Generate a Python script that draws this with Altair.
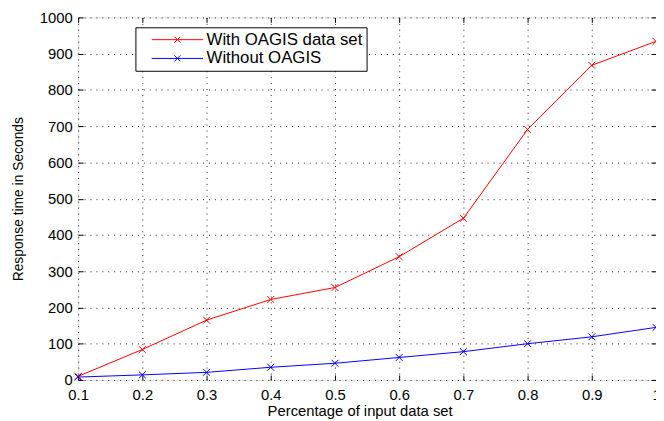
import altair as alt
import pandas as pd

x_vals = [0.1, 0.2, 0.3, 0.4, 0.5, 0.6, 0.7, 0.8, 0.9, 1.0]
with_oagis = [10, 84, 165, 222, 255, 340, 446, 691, 868, 934]
without_oagis = [8, 14, 21, 35, 46, 62, 78, 100, 119, 145]
series_names = ["With OAGIS data set", "Without OAGIS"]
series_colors = ["#ff0000", "#0000ff"]
x_ticks = [0.1, 0.2, 0.3, 0.4, 0.5, 0.6, 0.7, 0.8, 0.9, 1.0]
y_ticks = [0, 100, 200, 300, 400, 500, 600, 700, 800, 900, 1000]

rows = []
for xv, a, b in zip(x_vals, with_oagis, without_oagis):
    rows.append({"x": xv, "y": a, "series": series_names[0]})
    rows.append({"x": xv, "y": b, "series": series_names[1]})
df = pd.DataFrame(rows)

W, H = 585, 367
FONT = "Liberation Sans"

xscale = alt.Scale(domain=[0.1, 1.0], nice=False, zero=False)
yscale = alt.Scale(domain=[0, 1000], nice=False)

X_MARK = "M-1,-1L1,1M-1,1L1,-1"
# legend symbol: size 100 -> r = 5; line spans 52 px, small x marker in the middle
LEG_SYMBOL = "M-5.2,0H5.2M-0.6,-0.6L0.6,0.6M-0.6,0.6L0.6,-0.6"

main = alt.Chart(df).mark_line(
    strokeWidth=1,
    point=alt.OverlayMarkDef(shape=X_MARK, filled=False, size=49, strokeWidth=1),
).encode(
    x=alt.X("x:Q", scale=xscale,
            axis=alt.Axis(orient="bottom", values=x_ticks, format=".1~f",
                          title="Percentage of input data set",
                          grid=True, gridDash=[1, 5], gridColor="#222",
                          ticks=False, tickSize=0, domain=False,
                          labelFont=FONT, labelFontSize=15, labelColor="black",
                          labelPadding=8, labelFlush=False,
                          titleFont=FONT, titleFontSize=15, titleFontWeight="normal",
                          titleColor="black", titlePadding=1, titleX=285)),
    y=alt.Y("y:Q", scale=yscale,
            axis=alt.Axis(orient="left", values=y_ticks, format="d",
                          title="Response time in Seconds",
                          grid=True, gridDash=[1, 5], gridColor="#222",
                          ticks=False, tickSize=0, domain=False,
                          labelFont=FONT, labelFontSize=15, labelColor="black",
                          labelPadding=6, labelFlush=False,
                          titleFont=FONT, titleFontSize=14, titleFontWeight="normal",
                          titleColor="black", titlePadding=14)),
    color=alt.Color("series:N",
                    scale=alt.Scale(domain=series_names, range=series_colors),
                    sort=series_names,
                    legend=alt.Legend(title=None, orient="none", legendX=58, legendY=10,
                                      direction="vertical",
                                      symbolType=LEG_SYMBOL, symbolSize=100,
                                      symbolStrokeWidth=1, symbolOffset=30,
                                      symbolFillColor="transparent",
                                      labelOffset=21, labelFont=FONT, labelFontSize=17,
                                      labelColor="black", labelLimit=400,
                                      strokeColor="black", fillColor="white",
                                      padding=4, rowPadding=1)),
)


def tick_layer(xorient, yorient, xoff, yoff):
    return alt.Chart(df).mark_point(opacity=0).encode(
        x=alt.X("x:Q", scale=xscale,
                axis=alt.Axis(orient=xorient, offset=xoff, values=x_ticks,
                              labels=False, domain=False, grid=False, title=None,
                              ticks=True, tickSize=5, tickColor="black")),
        y=alt.Y("y:Q", scale=yscale,
                axis=alt.Axis(orient=yorient, offset=yoff, values=y_ticks,
                              labels=False, domain=False, grid=False, title=None,
                              ticks=True, tickSize=5, tickColor="black")),
    )


t1 = tick_layer("top", "right", -H, -W)   # ticks at bottom & left, pointing inward
t2 = tick_layer("bottom", "left", -H, -W)  # ticks at top & right, pointing inward

chart = alt.layer(main, t1, t2).resolve_axis(
    x="independent", y="independent"
).properties(
    width=W, height=H,
    autosize=alt.AutoSizeParams(type="none"),
    padding={"left": 71, "top": 7, "right": 0, "bottom": 39},
).configure_view(
    stroke="black", strokeWidth=1
).configure(background="white")

chart.save("out.html", embed_options={"renderer": "svg", "actions": False})
